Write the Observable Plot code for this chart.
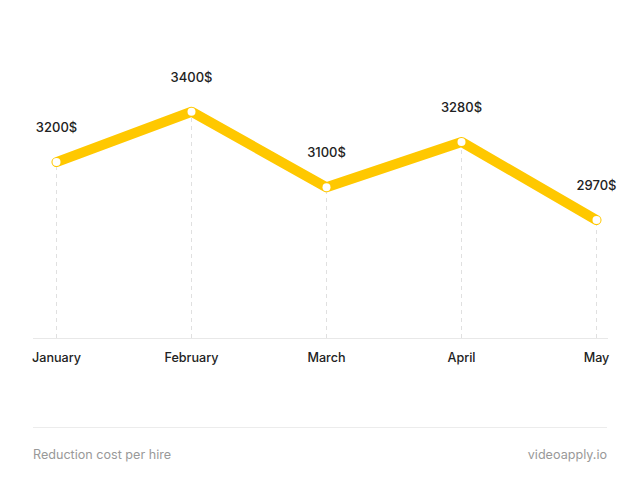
<!DOCTYPE html>
<html>
<head>
<meta charset="utf-8">
<script src="https://cdn.jsdelivr.net/npm/d3@7"></script>
<script src="https://cdn.jsdelivr.net/npm/@observablehq/plot@0.6"></script>
<style>
  html, body { margin: 0; padding: 0; background: #fff; }
  body { width: 640px; height: 492px; font-family: Inter, "Noto Sans", sans-serif; overflow: hidden; }
  #footer { margin: 27px 33px 0 33px; border-top: 1px solid #ececec; display: flex; justify-content: space-between; padding-top: 19px; font-size: 12.6px; color: #999; }
</style>
</head>
<body>
<div id="chart"></div>
<div id="footer"><span id="caption"></span><span id="source"></span></div>
<script>
const months = ["January", "February", "March", "April", "May"];
const costs = [3200, 3400, 3100, 3280, 2970];
const valueLabels = ["3200$", "3400$", "3100$", "3280$", "2970$"];
const captionText = "Reduction cost per hire";
const sourceText = "videoapply.io";
const yBase = 2500;

const data = months.map((m, i) => ({month: m, cost: costs[i], label: valueLabels[i]}));

const chart = Plot.plot({
  width: 640,
  height: 400,
  marginLeft: 56,
  marginRight: 44,
  marginTop: 86,
  marginBottom: 62,
  style: {fontFamily: "Inter, 'Noto Sans', sans-serif", background: "#fff", overflow: "visible"},
  x: {type: "point", domain: months, padding: 0, label: null},
  y: {domain: [2500, 3500], axis: null},
  marks: [
    Plot.ruleY([yBase], {stroke: "#e8e8e8", strokeWidth: 1, insetLeft: -23, insetRight: -12}),
    Plot.ruleX(data, {x: "month", y1: yBase, y2: "cost", stroke: "#e0e0e0", strokeDasharray: "4,4", strokeWidth: 1}),
    Plot.line(data, {x: "month", y: "cost", stroke: "#FFC800", strokeWidth: 10, strokeLinejoin: "round", strokeLinecap: "round"}),
    Plot.dot(data, {x: "month", y: "cost", r: 4, fill: "#fff", stroke: "none"}),
    Plot.text(data, {x: "month", y: "cost", text: "label", dy: -34, fontSize: 13, fontWeight: 500, fill: "#222"}),
    Plot.axisX({tickSize: 0, tickPadding: 15, fontSize: 12.6, fontWeight: 500, color: "#222", label: null})
  ]
});
document.getElementById("chart").appendChild(chart);
document.getElementById("caption").textContent = captionText;
document.getElementById("source").textContent = sourceText;
</script>
</body>
</html>
